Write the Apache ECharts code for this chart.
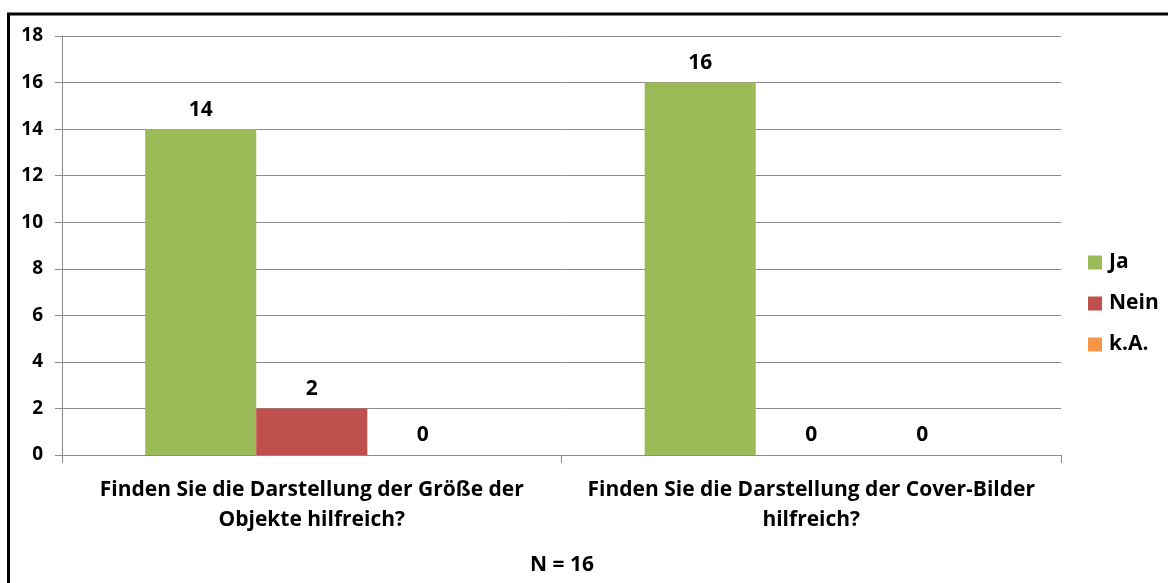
<!DOCTYPE html>
<html>
<head>
<meta charset="utf-8">
<script src="https://cdn.jsdelivr.net/npm/echarts@6/dist/echarts.min.js"></script>
<style>
  html, body { margin: 0; padding: 0; background: #fff; }
  #chart { width: 1168px; height: 583px; }
</style>
</head>
<body>
<div id="chart"></div>
<script>
// Survey answers per question
const categories = [
  'Finden Sie die Darstellung der Größe der\nObjekte hilfreich?',
  'Finden Sie die Darstellung der Cover-Bilder\nhilfreich?'
];
const seriesNames = ['Ja', 'Nein', 'k.A.'];
const jaValues = [14, 16];
const neinValues = [2, 0];
const kaValues = [0, 0];
const yTicks = [0, 2, 4, 6, 8, 10, 12, 14, 16, 18];
const footnote = 'N = 16';

const colors = ['#9BBB59', '#C0504D', '#F79646'];
const FONT = '"Open Sans", "Noto Sans", sans-serif';

const chart = echarts.init(document.getElementById('chart'));

function barSeries(name, data, color) {
  return {
    name: name,
    type: 'bar',
    data: data,
    barGap: '0%',
    barCategoryGap: '33.3%',
    itemStyle: { color: color },
    label: {
      show: true,
      position: 'top',
      distance: 9,
      color: '#000',
      fontFamily: FONT,
      fontWeight: 'bold',
      fontSize: 21
    }
  };
}

chart.setOption({
  animation: false,
  title: {
    text: footnote,
    left: 562,
    textAlign: 'center',
    top: 555,
    padding: 0,
    textStyle: { fontFamily: FONT, fontWeight: 'bold', fontSize: 21, color: '#000' }
  },
  legend: {
    orient: 'vertical',
    left: 1088,
    top: 252,
    padding: 0,
    itemWidth: 14,
    itemHeight: 14,
    itemGap: 20,
    icon: 'rect',
    data: seriesNames,
    textStyle: { fontFamily: FONT, fontWeight: 'bold', fontSize: 21, color: '#000', padding: [0, 0, 0, 2] }
  },
  grid: { left: 62, right: 107, top: 36, bottom: 128, containLabel: false },
  xAxis: {
    type: 'category',
    data: categories,
    axisLine: { show: true, lineStyle: { color: '#8c8c8c', width: 1 } },
    axisTick: { show: true, length: 8, lineStyle: { color: '#8c8c8c' } },
    axisLabel: {
      margin: 20,
      color: '#000',
      fontFamily: FONT,
      fontWeight: 'bold',
      fontSize: 21,
      lineHeight: 30,
      interval: 0
    }
  },
  yAxis: {
    type: 'value',
    min: yTicks[0],
    max: yTicks[yTicks.length - 1],
    interval: 2,
    axisLine: { show: true, lineStyle: { color: '#8c8c8c', width: 1 } },
    axisTick: { show: true, length: 7, lineStyle: { color: '#8c8c8c' } },
    splitLine: { show: true, lineStyle: { color: '#8c8c8c', width: 1 } },
    axisLabel: {
      margin: 19,
      color: '#000',
      fontFamily: FONT,
      fontWeight: 'bold',
      fontSize: 19
    }
  },
  graphic: [
    {
      type: 'polyline',
      shape: { points: [[8.5, 583], [8.5, 14], [1168, 14]] },
      style: { stroke: '#000', lineWidth: 3, fill: null },
      silent: true
    }
  ],
  series: [
    barSeries(seriesNames[0], jaValues, colors[0]),
    barSeries(seriesNames[1], neinValues, colors[1]),
    barSeries(seriesNames[2], kaValues, colors[2])
  ]
});
</script>
</body>
</html>
